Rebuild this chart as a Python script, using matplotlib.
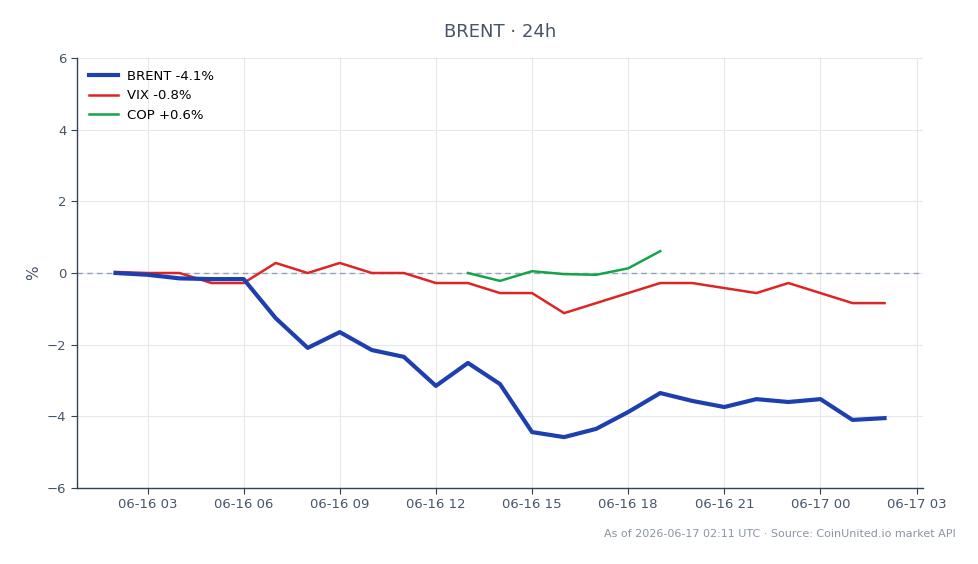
import matplotlib
matplotlib.use("Agg")
import matplotlib.pyplot as plt
import matplotlib.dates as mdates
import pandas as pd
import numpy as np

times = pd.date_range("2026-06-16 02:00", "2026-06-17 02:00", freq="1h")

brent = [0.0, -0.05, -0.15, -0.17, -0.17, -1.26, -2.09, -1.65, -2.15, -2.34,
         -3.15, -2.51, -3.10, -4.44, -4.58, -4.35, -3.88, -3.35, -3.57, -3.74,
         -3.52, -3.60, -3.52, -4.10, -4.05]
vix = [0.03, 0.0, 0.0, -0.28, -0.28, 0.28, 0.0, 0.28, 0.0, 0.0,
       -0.28, -0.28, -0.56, -0.56, -1.12, -0.84, -0.56, -0.28, -0.28, -0.42,
       -0.56, -0.28, -0.56, -0.84, -0.84]
cop_times = times[11:18]
cop = [0.0, -0.22, 0.05, -0.03, -0.05, 0.13, 0.61]

labels = ["BRENT -4.1%", "VIX -0.8%", "COP +0.6%"]
title = "BRENT · 24h"
footer = "As of 2026-06-17 02:11 UTC · Source: CoinUnited.io market API"

fig = plt.figure(figsize=(9.79, 5.64), dpi=100)
ax = fig.add_axes([77/979, 1-488/564, (923-77)/979, (488-58)/564])

text_c = "#475569"
ax.plot(times, brent, color="#1e40af", lw=3, label=labels[0], zorder=4)
ax.plot(times, vix, color="#dc2626", lw=1.8, label=labels[1], zorder=3)
ax.plot(cop_times, cop, color="#16a34a", lw=1.8, label=labels[2], zorder=3)
ax.axhline(0, color="#94a3b8", lw=1, ls=(0, (4, 3)), zorder=2)

pad = pd.Timedelta(hours=1.2)
ax.set_xlim(times[0] - pad, times[-1] + pad)
ax.set_ylim(-6, 6)
ax.set_yticks([-6, -4, -2, 0, 2, 4, 6])
ax.xaxis.set_major_locator(mdates.HourLocator(byhour=[0, 3, 6, 9, 12, 15, 18, 21]))
ax.xaxis.set_major_formatter(mdates.DateFormatter("%m-%d %H"))

ax.grid(True, color="#e5e7eb", lw=0.8)
ax.set_axisbelow(True)
for s in ["top", "right"]:
    ax.spines[s].set_visible(False)
for s in ["left", "bottom"]:
    ax.spines[s].set_color("#334155")
    ax.spines[s].set_linewidth(1)
ax.tick_params(colors="#334155", labelcolor=text_c, labelsize=9.5, length=4)
ax.set_ylabel("%", color=text_c, fontsize=11, labelpad=4)

ax.legend(loc="upper left", frameon=False, fontsize=9.5, handlelength=2.2,
          borderaxespad=0.5, labelspacing=0.5, handletextpad=0.7)
fig.text(500/979, 1-32/564, title, ha="center", va="center", fontsize=13, color=text_c)
fig.text(956/979, 1-534/564, footer, ha="right", va="center", fontsize=8, color="#8a94a3")

fig.savefig("out.png", dpi=100, facecolor="white")
